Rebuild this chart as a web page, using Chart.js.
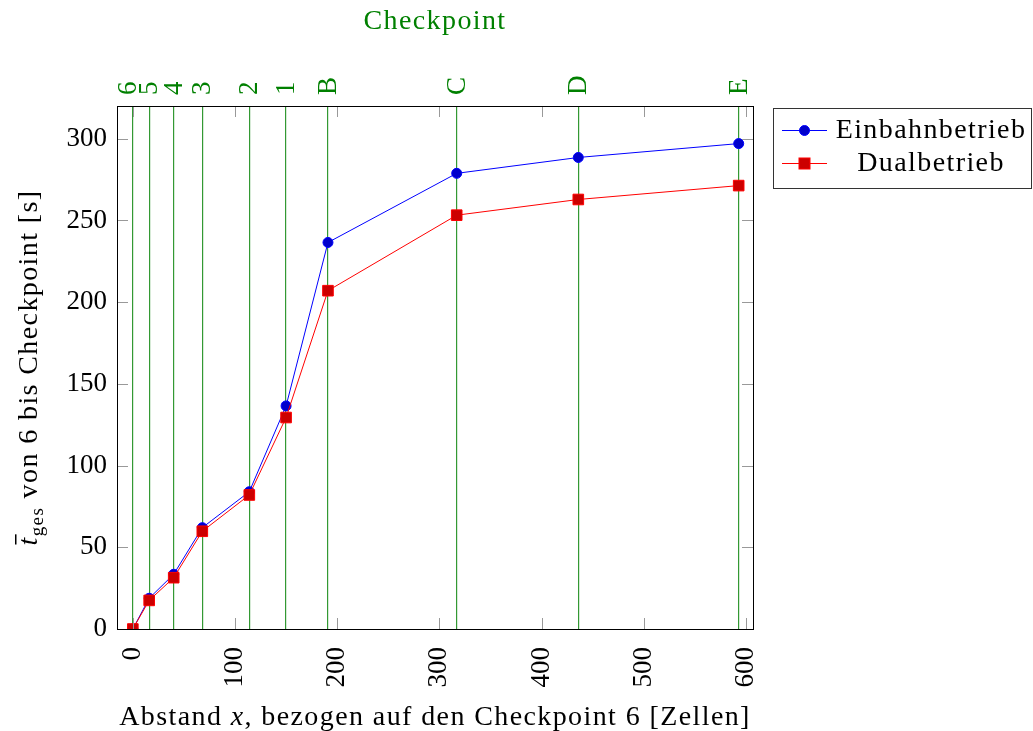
<!DOCTYPE html>
<html lang="de">
<head>
<meta charset="utf-8">
<title>Fahrzeit bis Checkpoint</title>
<script src="https://cdn.jsdelivr.net/npm/chart.js@4.4.1/dist/chart.umd.min.js"></script>
<style>
  html, body { margin: 0; padding: 0; background: #fff; }
  canvas { display: block; }
</style>
</head>
<body>
<canvas id="zeitChart" width="1033" height="731"></canvas>
<script>
// Daten
const checkpointLabels = ['6', '5', '4', '3', '2', '1', 'B', 'C', 'D', 'E'];
const checkpointX = [0, 16, 40, 68, 114, 150, 191, 317, 436, 593];
const einbahnZeit = [0, 18.8, 33.5, 62, 84, 136.5, 236.5, 278.8, 288.5, 297];
const dualZeit = [0, 17.5, 31.4, 59.8, 82, 129.4, 207, 253.2, 262.8, 271.3];
const xTicks = [0, 100, 200, 300, 400, 500, 600];
const yTicks = [0, 50, 100, 150, 200, 250, 300];
const serienNamen = ['Einbahnbetrieb', 'Dualbetrieb'];

const FONT = '"Liberation Serif", "DejaVu Serif", serif';
const GRUEN = 'rgb(0,128,0)';
const SPACING = '1.4px';

document.addEventListener('DOMContentLoaded', function() {
    initZeitChart();
});

function punkte(werte) {
    return checkpointX.map(function(x, i) { return { x: x, y: werte[i] }; });
}

// Rahmen, Innen-Ticks, Checkpoint-Beschriftung, Achsentitel und Legende
const extrasPlugin = {
    id: 'extras',
    afterDraw: function(chart) {
        const ctx = chart.ctx;
        const a = chart.chartArea;
        const xs = chart.scales.x;
        const ys = chart.scales.y;
        ctx.save();

        // kleine Ticks nach innen
        ctx.strokeStyle = '#999';
        ctx.lineWidth = 1;
        ctx.beginPath();
        xTicks.forEach(function(v) {
            const px = Math.round(xs.getPixelForValue(v)) + 0.5;
            ctx.moveTo(px, a.bottom); ctx.lineTo(px, a.bottom - 11);
            ctx.moveTo(px, a.top); ctx.lineTo(px, a.top + 11);
        });
        yTicks.forEach(function(v) {
            const py = Math.round(ys.getPixelForValue(v)) + 0.5;
            ctx.moveTo(a.left, py); ctx.lineTo(a.left + 11, py);
            ctx.moveTo(a.right, py); ctx.lineTo(a.right - 11, py);
        });
        ctx.stroke();

        // Rahmen
        ctx.strokeStyle = '#000';
        ctx.strokeRect(Math.round(a.left) + 0.5, Math.round(a.top) + 0.5,
            Math.round(a.right - a.left), Math.round(a.bottom - a.top));

        // Checkpoint-Beschriftung oben (gedreht), eng liegende nach links schieben
        const mitten = checkpointX.map(function(v) { return xs.getPixelForValue(v) + 1; });
        for (let i = mitten.length - 2; i >= 0; i--) {
            if (mitten[i] > mitten[i + 1] - 21) mitten[i] = mitten[i + 1] - 21;
        }
        ctx.fillStyle = GRUEN;
        ctx.font = '27px ' + FONT;
        ctx.textAlign = 'left';
        ctx.textBaseline = 'middle';
        checkpointLabels.forEach(function(lbl, i) {
            ctx.save();
            ctx.translate(mitten[i], a.top - 11);
            ctx.rotate(-Math.PI / 2);
            ctx.fillText(lbl, 0, 0);
            ctx.restore();
        });

        ctx.letterSpacing = SPACING;

        // Titel oben
        ctx.font = '28px ' + FONT;
        ctx.textAlign = 'center';
        ctx.textBaseline = 'middle';
        ctx.fillText('Checkpoint', (a.left + a.right) / 2, 22);

        // x-Achsentitel
        ctx.fillStyle = '#000';
        const teile = [
            ['Abstand ', '28px ' + FONT],
            ['x', 'italic 28px ' + FONT],
            [', bezogen auf den Checkpoint 6 [Zellen]', '28px ' + FONT]
        ];
        let breite = 0;
        teile.forEach(function(t) { ctx.font = t[1]; breite += ctx.measureText(t[0]).width; });
        let xPos = (a.left + a.right) / 2 - breite / 2;
        ctx.textAlign = 'left';
        ctx.textBaseline = 'alphabetic';
        teile.forEach(function(t) {
            ctx.font = t[1];
            ctx.fillText(t[0], xPos, 725);
            xPos += ctx.measureText(t[0]).width;
        });

        // y-Achsentitel (gedreht)
        ctx.save();
        ctx.translate(37, (a.top + a.bottom) / 2);
        ctx.rotate(-Math.PI / 2);
        ctx.font = 'italic 28px ' + FONT;
        const wT = ctx.measureText('t').width;
        ctx.font = '19px ' + FONT;
        const wSub = ctx.measureText('ges').width;
        ctx.font = '28px ' + FONT;
        const rest = ' von 6 bis Checkpoint [s]';
        const wRest = ctx.measureText(rest).width;
        let p = -(wT + wSub + wRest) / 2;
        ctx.font = 'italic 28px ' + FONT;
        ctx.fillText('t', p, 0);
        ctx.fillRect(p + 1, -22, wT + 1, 1.5);
        p += wT;
        ctx.font = '19px ' + FONT;
        ctx.fillText('ges', p, 6);
        p += wSub;
        ctx.font = '28px ' + FONT;
        ctx.fillText(rest, p, 0);
        ctx.restore();

        // Legende
        const lx = 773, ly = 108, lw = 258, lh = 80;
        ctx.strokeStyle = '#333';
        ctx.strokeRect(lx + 0.5, ly + 0.5, lw, lh);
        const zeilenY = [130, 163];
        chart.data.datasets.forEach(function(ds, i) {
            const y = zeilenY[i];
            ctx.strokeStyle = ds.borderColor;
            ctx.lineWidth = 1;
            ctx.beginPath();
            ctx.moveTo(782, y + 0.5); ctx.lineTo(827, y + 0.5);
            ctx.stroke();
            ctx.fillStyle = ds.pointBackgroundColor;
            if (ds.pointStyle === 'rect') {
                ctx.fillRect(799, y - 5, 11, 11);
                ctx.strokeRect(799, y - 5, 11, 11);
            } else {
                ctx.beginPath();
                ctx.arc(804.5, y + 0.5, 5, 0, Math.PI * 2);
                ctx.fill();
                ctx.stroke();
            }
            ctx.fillStyle = '#000';
            ctx.font = '28px ' + FONT;
            ctx.textAlign = 'center';
            ctx.textBaseline = 'middle';
            ctx.fillText(ds.label, 931, y + 1);
        });

        ctx.restore();
    }
};

function initZeitChart() {
    const el = document.getElementById('zeitChart');
    if (!el) return;

    const ctx = el.getContext('2d');
    const zeitChart = new Chart(ctx, {
        type: 'line',
        data: {
            datasets: [{
                label: serienNamen[0],
                data: punkte(einbahnZeit),
                borderColor: 'rgb(0,0,255)',
                borderWidth: 1,
                pointStyle: 'circle',
                pointRadius: 5,
                pointBorderWidth: 1,
                pointBackgroundColor: 'rgb(0,0,204)',
                pointBorderColor: 'rgb(0,0,255)',
                tension: 0,
                order: 1
            }, {
                label: serienNamen[1],
                data: punkte(dualZeit),
                borderColor: 'rgb(255,0,0)',
                borderWidth: 1,
                pointStyle: 'rect',
                pointRadius: 7.5,
                pointBorderWidth: 1,
                pointBackgroundColor: 'rgb(204,0,0)',
                pointBorderColor: 'rgb(255,0,0)',
                tension: 0,
                order: 0
            }]
        },
        options: {
            responsive: false,
            animation: false,
            devicePixelRatio: 1,
            layout: { padding: { left: 0, top: 0, right: 280, bottom: 0 } },
            plugins: {
                legend: { display: false },
                tooltip: { enabled: false }
            },
            scales: {
                x: {
                    type: 'linear',
                    position: 'bottom',
                    min: -15.5,
                    max: 607,
                    afterBuildTicks: function(scale) {
                        scale.ticks = xTicks.map(function(v) { return { value: v }; });
                    },
                    afterFit: function(scale) { scale.height = 102; },
                    grid: { display: false, drawTicks: false },
                    border: { display: false },
                    ticks: {
                        color: '#000',
                        font: { family: FONT, size: 27 },
                        minRotation: 90,
                        maxRotation: 90,
                        autoSkip: false,
                        padding: 18
                    }
                },
                xTop: {
                    type: 'linear',
                    position: 'top',
                    min: -15.5,
                    max: 607,
                    afterBuildTicks: function(scale) {
                        scale.ticks = checkpointX.map(function(v) { return { value: v }; });
                    },
                    afterFit: function(scale) { scale.height = 106; },
                    grid: {
                        color: 'rgba(0,128,0,0.8)',
                        lineWidth: 1.2,
                        drawTicks: false
                    },
                    border: { display: false },
                    ticks: { display: false }
                },
                y: {
                    type: 'linear',
                    min: 0,
                    max: 320,
                    afterBuildTicks: function(scale) {
                        scale.ticks = yTicks.map(function(v) { return { value: v }; });
                    },
                    afterFit: function(scale) { scale.width = 117; },
                    grid: { display: false, drawTicks: false },
                    border: { display: false },
                    ticks: {
                        color: '#000',
                        font: { family: FONT, size: 27 },
                        padding: 10
                    }
                }
            }
        },
        plugins: [extrasPlugin]
    });
}
</script>
</body>
</html>
